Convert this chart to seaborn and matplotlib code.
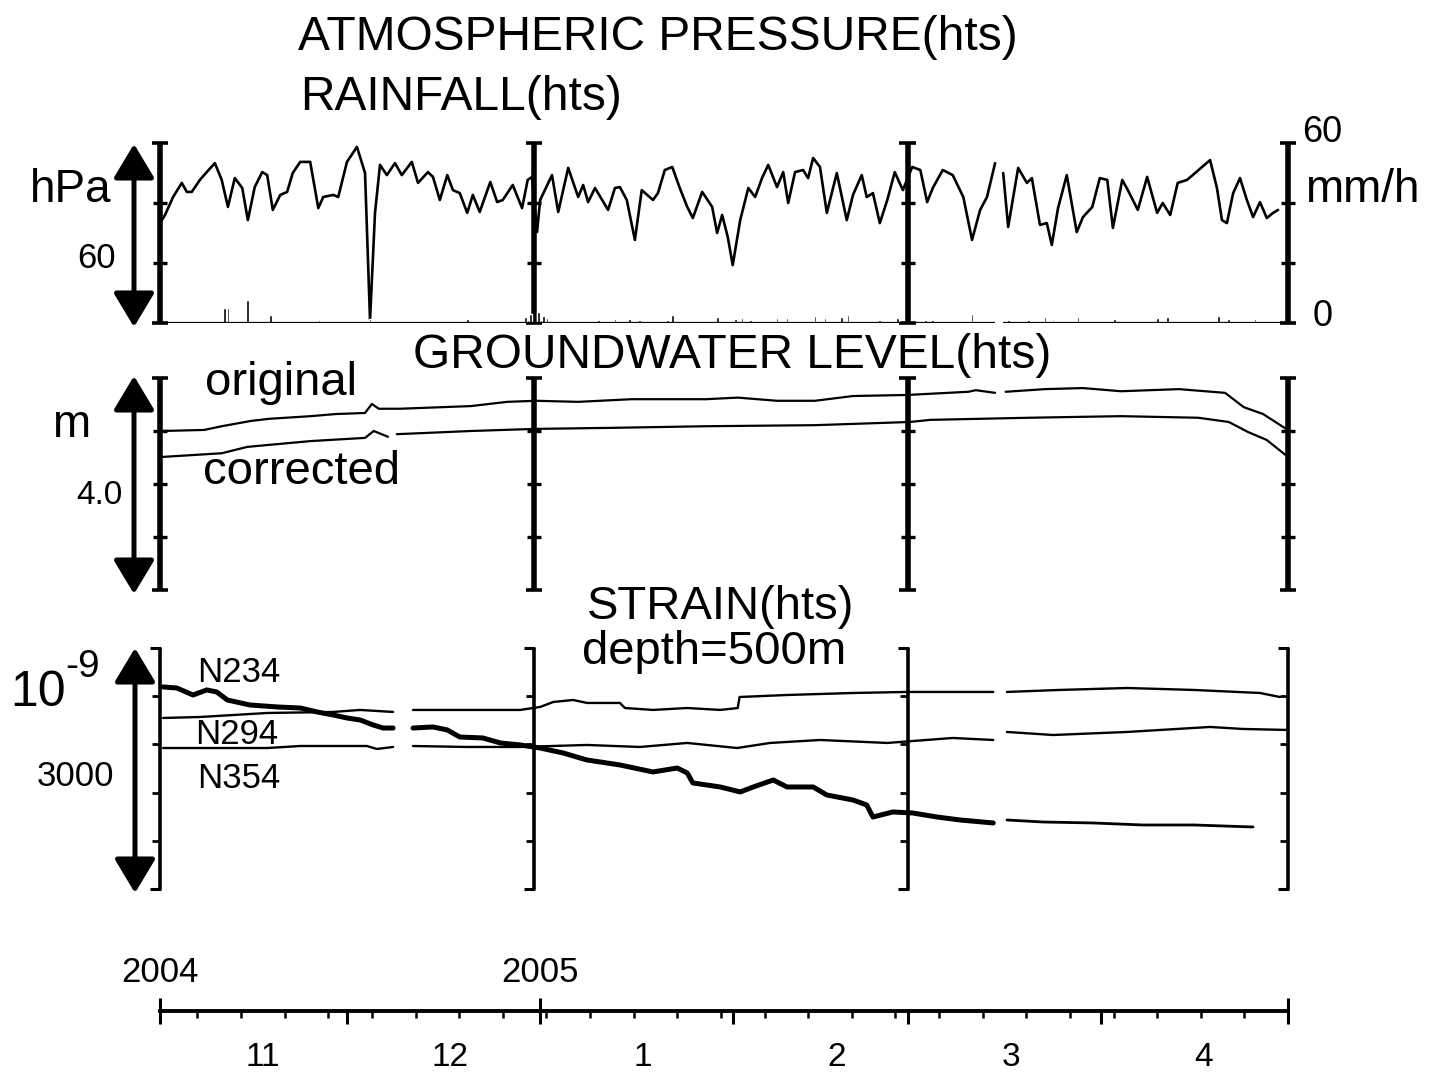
import numpy as np
import pandas as pd
import matplotlib
matplotlib.use("Agg")
import matplotlib.pyplot as plt
import matplotlib.transforms as mtransforms
from matplotlib.patches import FancyArrowPatch
import seaborn as sns

sns.set_theme(style="white")
plt.rcParams["font.family"] = ["Liberation Sans", "DejaVu Sans"]
plt.rcParams["text.color"] = "black"
plt.rcParams["xtick.color"] = "black"
plt.rcParams["xtick.labelcolor"] = "black"

nan = np.nan

# ---------------------------------------------------------------------------
# Data: time is counted in days from 2004-11-01 (hourly records, "hts")
# NaN entries mark recording gaps.
# ---------------------------------------------------------------------------
START = pd.Timestamp("2004-11-01")
END = pd.Timestamp("2005-05-01")

pressure_day = [0.0, 0.8, 2.1, 3.5, 4.3, 5.1, 6.4, 7.5, 8.8, 9.9,
                10.9, 12.0, 13.2, 14.1, 15.2, 16.4, 17.2, 18.1, 19.3, 20.4,
                21.3, 22.5, 24.1, 25.4, 26.2, 27.8, 28.6, 30.0, 31.6, 32.9,
                33.7, 34.5, 35.3, 36.4, 37.7, 38.8, 40.4, 41.4, 43.0, 43.8,
                44.9, 46.1, 47.0, 48.1, 49.3, 50.2, 51.3, 53.0, 54.1, 55.0,
                56.6, 58.1, 59.0, 59.7, 60.5, 61.0, 62.9, 63.9, 65.5, 67.1,
                67.9, 68.7, 69.8, 71.9, 73.0, 73.8, 74.9, 76.2, 77.3, 79.1,
                79.9, 81.0, 82.2, 83.4, 84.6, 85.5, 87.0, 88.6, 89.4, 90.2,
                91.1, 91.9, 93.1, 94.4, 95.5, 96.6, 97.6, 99.0, 100.0, 100.8,
                101.9, 103.2, 104.0, 104.8, 105.9, 107.0, 108.6, 110.2, 111.2, 112.6,
                113.4, 114.4, 115.5, 116.7, 117.9, 119.2, 120.7, 122.0, 123.1, 124.0,
                125.6, 127.2, 128.9, 130.3, 131.6, 132.7, 134.0, 134.6, 135.3, 136.1,
                137.7, 139.1, 139.9, 141.2, 142.3, 143.1, 144.1, 145.5, 147.1, 148.1,
                149.6, 150.8, 152.0, 152.9, 154.4, 155.3, 156.9, 158.4, 160.0, 160.9,
                162.1, 163.3, 164.8, 166.1, 167.2, 168.5, 169.6, 170.4, 171.2, 172.2,
                173.3, 174.4, 175.4, 176.5, 177.6, 178.6, 179.4]
pressure_hpa = [1013.3, 1016.0, 1022.0, 1026.7, 1023.7, 1023.7, 1027.7, 1030.3, 1033.3, 1027.7,
                1018.7, 1028.3, 1025.0, 1014.3, 1025.3, 1030.3, 1029.3, 1017.7, 1022.7, 1023.7,
                1030.0, 1033.7, 1033.7, 1018.3, 1022.0, 1022.7, 1022.0, 1033.7, 1038.7, 1030.0,
                981.0, 1016.7, 1032.7, 1029.3, 1033.3, 1029.3, 1033.7, 1026.7, 1030.3, 1028.7,
                1021.0, 1029.3, 1024.3, 1023.3, 1016.7, 1022.7, 1017.0, 1027.0, 1020.3, 1021.0,
                1026.0, 1018.3, 1027.7, 1028.7, 1010.3, 1021.0, 1029.3, 1017.0, 1031.7, 1022.0,
                1026.0, 1020.3, 1025.0, 1017.7, 1025.0, 1025.3, 1021.0, 1007.7, 1024.3, 1021.0,
                1023.3, 1031.0, 1032.0, 1025.0, 1018.7, 1015.0, 1023.7, 1018.7, 1010.0, 1016.0,
                1008.7, 999.3, 1014.3, 1025.0, 1022.0, 1028.3, 1032.7, 1025.3, 1030.3, 1020.0,
                1030.3, 1031.0, 1028.3, 1035.0, 1032.0, 1016.7, 1030.0, 1014.3, 1022.7, 1029.3,
                1022.0, 1023.3, 1013.3, 1021.0, 1030.3, 1024.3, 1032.0, 1031.0, 1020.3, 1025.0,
                1031.0, 1029.3, 1022.0, 1007.7, 1017.7, 1022.0, 1033.3, nan, 1030.0, 1012.0,
                1031.7, 1026.7, 1028.3, 1012.7, 1013.3, 1006.0, 1018.3, 1029.3, 1010.3, 1015.3,
                1018.7, 1028.3, 1027.7, 1011.7, 1027.7, 1024.3, 1017.7, 1028.7, 1016.7, 1020.0,
                1016.0, 1026.7, 1027.7, 1030.0, 1032.0, 1034.3, 1025.0, 1014.3, 1013.3, 1023.3,
                1028.3, 1021.0, 1015.3, 1020.3, 1015.0, 1016.7, 1017.7]

rain_day = [10.3, 10.9, 14.0, 17.7, 25.5, 33.7, 41.7, 49.4, 58.6, 59.4,
            60.7, 61.5, 62.1, 67.7, 70.3, 73.0, 75.4, 77.0, 81.4, 82.2,
            89.5, 92.3, 93.4, 94.7, 99.0, 100.6, 105.1, 106.7, 109.4, 110.4,
            115.5, 118.3, 122.8, 124.0, 130.3, 136.1, 139.3, 142.0, 143.3, 147.3,
            153.2, 160.1, 161.7, 169.8, 171.4, 175.7]
rain_mmh = [5.0, 5.0, 7.7, 2.7, 1.0, 1.5, 0.7, 1.3, 2.0, 3.0,
            3.7, 2.5, 1.7, 0.7, 1.0, 1.3, 1.3, 1.0, 1.0, 2.7,
            2.0, 1.3, 1.7, 1.0, 1.7, 1.7, 2.3, 1.7, 2.0, 2.7,
            1.0, 1.7, 1.0, 1.0, 3.0, 1.0, 1.0, 2.0, 1.0, 2.0,
            1.3, 1.7, 2.0, 2.3, 1.3, 1.3]
rain_gap = (134.0, 135.3)

# Groundwater level (m, arbitrary datum)
gw_original_day = [0.3, 7.1, 9.9, 14.6, 17.5, 24.2, 28.2, 32.9, 34.0, 35.1,
                   38.5, 49.9, 55.7, 60.3, 67.1, 75.7, 87.6, 92.7, 99.0, 105.1,
                   111.2, 119.9, 129.7, 130.9, 134.0, 134.8, 135.7, 142.0, 148.1, 154.2,
                   163.5, 170.9, 173.9, 177.0, 180.7]
gw_original = [3.00, 3.02, 3.09, 3.19, 3.23, 3.28, 3.32, 3.34, 3.51, 3.42,
               3.42, 3.47, 3.55, 3.57, 3.55, 3.60, 3.60, 3.63, 3.57, 3.57,
               3.66, 3.68, 3.74, 3.77, 3.72, nan, 3.74, 3.79, 3.81, 3.75,
               3.79, 3.72, 3.45, 3.32, 3.04]
gw_corrected_day = [0.3, 9.9, 14.0, 18.6, 24.2, 32.9, 34.3, 36.6, 37.3, 38.0,
                    49.9, 60.3, 72.8, 87.6, 105.1, 120.3, 123.6, 139.4, 154.2, 166.6,
                    171.5, 174.6, 177.6, 181.0]
gw_corrected = [2.51, 2.58, 2.70, 2.75, 2.81, 2.87, 3.00, 2.89, nan, 2.94,
                3.00, 3.04, 3.06, 3.09, 3.11, 3.17, 3.21, 3.25, 3.28, 3.25,
                3.17, 2.98, 2.83, 2.51]

# Borehole strain at 500 m depth (10^-9)
n234_day = [0.5, 2.7, 5.3, 7.5, 9.1, 10.8, 14.4, 18.8, 22.5, 25.2,
            27.8, 30.0, 32.1, 34.2, 35.8, 37.4, 39.0, 40.6, 43.8, 46.1,
            48.1, 51.8, 54.6, 57.8, 61.0, 64.7, 68.5, 73.8, 79.1, 83.0,
            84.6, 85.5, 89.9, 93.1, 95.2, 98.4, 100.6, 104.8, 107.0, 111.2,
            113.4, 114.4, 117.6, 120.8, 124.7, 128.4, 133.7, 134.8, 135.9, 141.7,
            149.7, 157.7, 165.8, 175.4]
n234 = [2515, 2502, 2415, 2478, 2453, 2353, 2291, 2266, 2253, 2204,
        2166, 2129, 2104, 2042, 2004, 2004, nan, 2004, 2017, 1980,
        1892, 1880, 1818, 1793, 1755, 1693, 1606, 1544, 1457, 1506,
        1444, 1320, 1270, 1208, 1270, 1357, 1270, 1270, 1170, 1108,
        1046, 896, 959, 946, 896, 859, 822, nan, 859, 834,
        822, 797, 797, 772]
n294_day = [0.5, 6.4, 17.2, 27.8, 32.1, 37.4, 39.0, 40.6, 49.3, 57.8,
            61.0, 63.1, 66.3, 68.5, 73.8, 74.6, 79.1, 84.6, 89.9, 92.7,
            93.0, 100.6, 111.2, 119.9, 127.2, 133.7, 134.8, 135.9, 144.4, 155.2,
            165.8, 176.5, 179.7]
n294 = [2129, 2141, 2191, 2204, 2229, 2204, nan, 2229, 2229, 2229,
        2266, 2328, 2353, 2316, 2316, 2253, 2229, 2253, 2229, 2253,
        2390, 2415, 2440, 2453, 2453, 2453, nan, 2453, 2478, 2502,
        2478, 2440, 2390]
n354_day = [0.5, 17.2, 22.5, 33.2, 34.8, 37.4, 39.0, 40.6, 49.3, 57.8,
            68.5, 77.0, 84.6, 92.6, 97.9, 105.9, 116.7, 127.2, 133.7, 134.8,
            135.9, 143.3, 155.2, 168.5, 173.8, 180.8]
n354 = [1755, 1755, 1780, 1780, 1743, 1768, nan, 1780, 1768, 1768,
        1793, 1768, 1818, 1755, 1818, 1855, 1818, 1880, 1855, nan,
        1955, 1917, 1955, 2017, 1992, 1980]

# Frame bars (one per two-month plot sheet) and scale ranges
frame_days = [0, 60, 120, 181]
pressure_range = (980, 1040)   # 60 hPa full bar
rain_range = (0, 60)           # mm/h
gw_range = (0.0, 4.0)          # 4.0 m full bar
strain_range = (0, 3000)       # 3000 x 10^-9 full bar

month_labels = ["11", "12", "1", "2", "3", "4"]
year_labels = ["2004", "2005"]


def segmented(day, value):
    df = pd.DataFrame({"day": day, "value": value})
    df["segment"] = df["value"].isna().cumsum()
    return df.dropna()


# ---------------------------------------------------------------------------
W, H = 1430, 1079
fig = plt.figure(figsize=(W / 100, H / 100), dpi=100)
fig.patch.set_facecolor("white")

X0, X1 = 160, 1288
ndays = (END - START).days


def add_panel(top, bottom):
    ax = fig.add_axes([X0 / W, 1 - bottom / H, (X1 - X0) / W, (bottom - top) / H])
    ax.set_xlim(0, ndays)
    ax.axis("off")
    return ax


def frame(ax, ylo, yhi, ticks, lw, style):
    for d in frame_days:
        ax.vlines(d, ylo, yhi, color="black", lw=lw, clip_on=False, zorder=5)
        if style == "I":
            ax.hlines([ylo, yhi], d - 1.35, d + 1.35, color="black", lw=2.6,
                      clip_on=False, zorder=5)
            ax.hlines(ticks, d - 1.15, d + 1.15, color="black", lw=2.4,
                      clip_on=False, zorder=5)
        else:
            ax.hlines([ylo, yhi], d - 1.6, d + 0.15, color="black", lw=2.2,
                      clip_on=False, zorder=5)
            ax.hlines(ticks, d - 1.3, d, color="black", lw=2.0,
                      clip_on=False, zorder=5)


def fx(px):
    return px / W


def fy(py):
    return 1 - py / H


def label(x, y, s, size, ha="left", va="center"):
    fig.text(fx(x), fy(y), s, fontsize=size, ha=ha, va=va, color="black")


def arrow(x, y0, y1):
    a = FancyArrowPatch((fx(x), fy(y1)), (fx(x), fy(y0)),
                        transform=fig.transFigure,
                        arrowstyle="<|-|>,head_length=0.75,head_width=0.45",
                        mutation_scale=28, lw=3.6, color="black",
                        shrinkA=0, shrinkB=0)
    fig.add_artist(a)


# --- Panel 1: pressure and rainfall ---------------------------------------
ax1 = add_panel(143, 323)
ax1.set_ylim(*pressure_range)
sns.lineplot(data=segmented(pressure_day, pressure_hpa), x="day", y="value",
             units="segment", estimator=None, color="black", lw=1.9,
             ax=ax1, legend=False)
ax1.axis("off")
frame(ax1, pressure_range[0], pressure_range[1],
      [pressure_range[0] + 20, pressure_range[0] + 40], 4.0, "I")

ax1r = ax1.twinx()
ax1r.set_xlim(0, ndays)
ax1r.set_ylim(*rain_range)
ax1r.bar(rain_day, rain_mmh, width=0.45, color="black", bottom=0)
ax1r.hlines(0, 0, rain_gap[0], color="black", lw=1.6)
ax1r.hlines(0, rain_gap[1], ndays, color="black", lw=1.6)
ax1r.axis("off")

# --- Panel 2: groundwater level --------------------------------------------
ax2 = add_panel(378, 590)
ax2.set_ylim(*gw_range)
sns.lineplot(data=segmented(gw_original_day, gw_original), x="day", y="value",
             units="segment", estimator=None, color="black", lw=1.6,
             ax=ax2, legend=False)
sns.lineplot(data=segmented(gw_corrected_day, gw_corrected), x="day", y="value",
             units="segment", estimator=None, color="black", lw=1.6,
             ax=ax2, legend=False)
ax2.axis("off")
frame(ax2, gw_range[0], gw_range[1], [1.0, 2.0, 3.0], 4.0, "I")

# --- Panel 3: strain -------------------------------------------------------
ax3 = add_panel(648, 889)
ax3.set_ylim(*strain_range)
s234 = segmented(n234_day, n234)
sns.lineplot(data=s234[s234["day"] < 134.5], x="day", y="value",
             units="segment", estimator=None, color="black", lw=3.6,
             ax=ax3, legend=False)
sns.lineplot(data=s234[s234["day"] > 134.5], x="day", y="value",
             units="segment", estimator=None, color="black", lw=2.0,
             ax=ax3, legend=False)
for d, v in [(n294_day, n294), (n354_day, n354)]:
    sns.lineplot(data=segmented(d, v), x="day", y="value",
                 units="segment", estimator=None, color="black", lw=1.7,
                 ax=ax3, legend=False)
ax3.axis("off")
frame(ax3, strain_range[0], strain_range[1], [600, 1200, 1800, 2400], 2.6, "]")

# --- Time axis -------------------------------------------------------------
month_starts = pd.date_range(START, END, freq="MS")
month_days = list((month_starts - START).days)
sundays = [d for d in range(ndays) if (START + pd.Timedelta(days=d)).dayofweek == 6]
year_days = [0, (pd.Timestamp("2005-01-01") - START).days, ndays]

ax4 = fig.add_axes([fx(X0), fy(1011), (X1 - X0) / W, 0.0004])
ax4.set_xlim(0, ndays)
ax4.set_ylim(0, 1)
ax4.patch.set_visible(False)
for side in ["left", "right", "top"]:
    ax4.spines[side].set_visible(False)
ax4.spines["bottom"].set_linewidth(2.8)
ax4.spines["bottom"].set_color("black")
ax4.set_yticks([])
ax4.set_xticks(month_days)
ax4.set_xticklabels([])
ax4.set_xticks(sundays, minor=True)
ax4.tick_params(axis="x", which="major", direction="out", length=9.5, width=2.2,
                color="black")
ax4.tick_params(axis="x", which="minor", direction="out", length=5, width=1.8,
                color="black")

ax4t = ax4.twiny()
ax4t.set_xlim(0, ndays)
for side in ax4t.spines:
    ax4t.spines[side].set_visible(False)
ax4t.xaxis.set_ticks_position("top")
ax4t.set_xticks(year_days)
ax4t.set_xticklabels(year_labels + [""], fontsize=25, color="black")
ax4t.tick_params(axis="x", direction="out", length=9.5, width=2.2, pad=6,
                 color="black", labelcolor="black")

trans = mtransforms.blended_transform_factory(ax4.transData, fig.transFigure)
for lab, d in zip(month_labels, month_days[:-1]):
    ax4.text(d + 16.5, fy(1058), lab, transform=trans, ha="center", va="center",
             fontsize=24, color="black")

# --- Arrows and annotation text ------------------------------------------------
arrow(134, 144, 327)
arrow(134, 376, 594)
arrow(135, 648, 893)

label(298, 38, "ATMOSPHERIC PRESSURE(hts)", 34.5)
label(300, 97, "RAINFALL(hts)", 34.5)
label(30, 190, "hPa", 33)
label(97, 258, "60", 25, ha="center")
label(1302, 133, "60", 26)
label(1305, 190, "mm/h", 33)
label(1313, 316, "0", 26)

label(413, 355, "GROUNDWATER LEVEL(hts)", 34.5)
label(205, 383, "original", 34)
label(203, 472, "corrected", 34)
label(52, 425, "m", 33)
label(99, 495, "4.0", 24, ha="center")

label(587, 607, "STRAIN(hts)", 34)
label(582, 652, "depth=500m", 34)
label(10, 693, "10", 36)
label(65, 667, "-9", 28)
label(37, 777, "3000", 25)
label(197, 672, "N234", 25)
label(195, 735, "N294", 25)
label(197, 778, "N354", 25)

fig.savefig("out.png", dpi=100, facecolor="white")
